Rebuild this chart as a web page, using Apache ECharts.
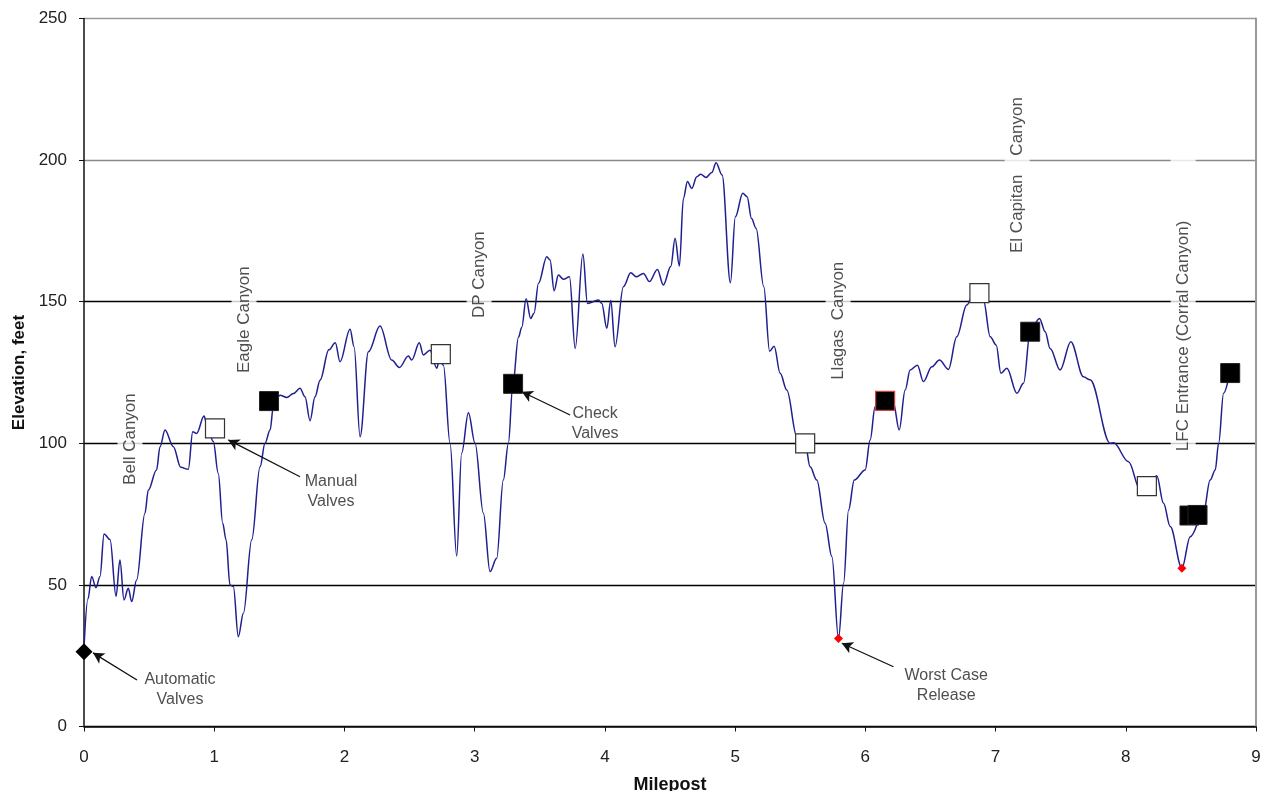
<!DOCTYPE html>
<html>
<head>
<meta charset="utf-8">
<script src="https://cdn.jsdelivr.net/npm/echarts@6/dist/echarts.min.js"></script>
<style>
  html, body { margin: 0; padding: 0; background: #fff; }
  #main { width: 1265px; height: 791px; }
</style>
</head>
<body>
<div id="main"></div>
<script>
// elevation profile: [milepost, elevation ft]
const profile = [
  [0, 28], [0.03, 45], [0.059, 53], [0.092, 49], [0.123, 53], [0.154, 68], [0.2, 66],
  [0.246, 46], [0.276, 58.8], [0.307, 44.7], [0.34, 48.8], [0.366, 44.1], [0.404, 51.7],
  [0.468, 75.3], [0.494, 83.5], [0.557, 90.6], [0.584, 98.8], [0.622, 104.7], [0.686, 98.8],
  [0.743, 91.5], [0.801, 90.8], [0.835, 104.1], [0.865, 103.5], [0.922, 109.6], [0.942, 107],
  [0.993, 100.6], [1.031, 89.4], [1.065, 71.8], [1.091, 65.9], [1.121, 50], [1.147, 49.4],
  [1.185, 31.7], [1.224, 40], [1.288, 65.9], [1.352, 91.7], [1.39, 100], [1.429, 104.7],
  [1.454, 112.9], [1.505, 117], [1.557, 116.2], [1.608, 117.6], [1.659, 119.4], [1.697, 116.4],
  [1.736, 108], [1.774, 116.4], [1.813, 122.3], [1.88, 133], [1.93, 135.5], [1.966, 128.8],
  [2.043, 140.3], [2.074, 134.1], [2.12, 102.3], [2.184, 132.3], [2.273, 141.4], [2.363, 129.4],
  [2.422, 126.8], [2.491, 130.8], [2.517, 129.4], [2.575, 135.5], [2.606, 131.2], [2.657, 132.9],
  [2.709, 126.5], [2.73, 130], [2.76, 127.6], [2.811, 100], [2.862, 60.2], [2.9, 96.5],
  [2.952, 110.8], [3.003, 100], [3.067, 75.3], [3.118, 54.7], [3.169, 59.4], [3.22, 87],
  [3.259, 100], [3.292, 120], [3.336, 137.4], [3.362, 141], [3.395, 151], [3.43, 144.1],
  [3.456, 145.9], [3.49, 156.5], [3.554, 165.9], [3.579, 164.7], [3.61, 153.9], [3.643, 159.4],
  [3.682, 157.9], [3.728, 158.8], [3.772, 133.5], [3.831, 166.8], [3.866, 149.4], [3.951, 150.6],
  [3.976, 149.4], [4.015, 140.6], [4.045, 150.4], [4.078, 134.1], [4.142, 155.3], [4.199, 160.2],
  [4.24, 158.8], [4.296, 160], [4.342, 157.1], [4.403, 161.4], [4.449, 155.9], [4.506, 162.4],
  [4.539, 172.4], [4.572, 162.6], [4.603, 186.5], [4.634, 192.4], [4.667, 190], [4.706, 194.1],
  [4.736, 195], [4.777, 193.9], [4.821, 195.6], [4.854, 199.1], [4.9, 194.7], [4.964, 156.7],
  [5.002, 180], [5.059, 188.3], [5.092, 187.1], [5.126, 179.4], [5.161, 175.9], [5.22, 155.3],
  [5.265, 132.5], [5.3, 134.3], [5.346, 124.7], [5.397, 118.8], [5.474, 102.3], [5.538, 100],
  [5.576, 91.7], [5.627, 87], [5.691, 71.8], [5.743, 60], [5.794, 31.1], [5.833, 50.6],
  [5.871, 76.4], [5.915, 87], [5.999, 90.6], [6.037, 101.2], [6.075, 112.9], [6.13, 116],
  [6.216, 114.1], [6.26, 104.7], [6.306, 118.8], [6.344, 125.9], [6.4, 127.6], [6.446, 121.8],
  [6.51, 127], [6.569, 129.4], [6.638, 126.1], [6.702, 137.6], [6.779, 148.8], [6.851, 155.2],
  [6.907, 150.6], [6.959, 137.6], [7.005, 134.7], [7.041, 124.7], [7.087, 126.5], [7.164, 117.7],
  [7.215, 121.2], [7.266, 139.4], [7.337, 144.1], [7.381, 139.4], [7.419, 133.5], [7.496, 125.9],
  [7.578, 135.9], [7.675, 123.5], [7.726, 122.4], [7.88, 100], [7.906, 100.2], [8.021, 93.5],
  [8.111, 83.5], [8.162, 84.5], [8.238, 88.5], [8.29, 78.8], [8.341, 70.6], [8.431, 55.9],
  [8.495, 67], [8.596, 75.3], [8.648, 87], [8.687, 90.6], [8.713, 100], [8.751, 117.7], [8.79, 123]
];

// valves
const automaticValves = [[0, 26.4]];
const manualValves = [[1.006, 105.3], [2.74, 131.5], [5.538, 100], [6.876, 153], [8.162, 84.9]];
const checkValves = [[1.421, 114.9], [3.295, 121], [7.266, 139.4], [8.489, 74.5], [8.551, 74.7], [8.802, 124.8]];
const checkValvesRed = [[6.152, 115]];
const worstCase = [[5.794, 31.1], [8.431, 55.9]];

// canyon names, anchored at the start (bottom) of the text
const canyonNames = ['Bell Canyon', 'Eagle Canyon', 'DP Canyon', 'Llagas  Canyon', 'El Capitan    Canyon', 'LFC Entrance (Corral Canyon)'];
const canyonAt = [[0.353, 84.6], [1.229, 124.1], [3.034, 143.5], [5.791, 121.7], [7.166, 166.5], [8.441, 96.5]];

// callouts: text centre, arrow tail, arrow tip
const calloutText = ['Automatic\nValves', 'Manual\nValves', 'Check\nValves', 'Worst Case\nRelease'];
const calloutAt = [[0.737, 12.9], [1.897, 83.1], [3.925, 106.8], [6.621, 14.3]];
const arrowFrom = [[0.407, 16.4], [1.659, 88.2], [3.733, 110], [6.216, 21.1]];
const arrowTo = [[0.069, 26], [1.108, 101.2], [3.362, 118.2], [5.819, 29.4]];

const FONT = 'Liberation Sans, Arial, sans-serif';

const chart = echarts.init(document.getElementById('main'));

chart.setOption({
  animation: false,
  backgroundColor: '#fff',
  grid: { left: 84, right: 9, top: 18.5, bottom: 64.5, containLabel: false, outerBoundsMode: 'none' },
  xAxis: {
    type: 'value', min: 0, max: 9, interval: 1,
    name: 'Milepost', nameLocation: 'middle', nameGap: 50,
    nameTextStyle: { fontFamily: FONT, fontSize: 18, fontWeight: 'bold', color: '#111' },
    axisLine: { lineStyle: { color: '#111', width: 1.5 } },
    axisTick: { show: true, length: 5, lineStyle: { color: '#111' } },
    axisLabel: { fontFamily: FONT, fontSize: 17, color: '#222', margin: 22 },
    splitLine: { show: false }
  },
  yAxis: [{
    type: 'value', min: 0, max: 250, interval: 50,
    name: 'Elevation, feet', nameLocation: 'middle', nameGap: 55, nameRotate: 90,
    nameTextStyle: { fontFamily: FONT, fontSize: 17, fontWeight: 'bold', color: '#111' },
    axisLine: { show: true, lineStyle: { color: '#111', width: 1.5 } },
    axisTick: { show: true, length: 5, lineStyle: { color: '#111' } },
    axisLabel: { fontFamily: FONT, fontSize: 17, color: '#222', margin: 17 },
    splitLine: { show: true, lineStyle: { color: ['#000', '#000', '#000', '#000', '#8a8a8a', '#9a9a9a'], width: 1.3 } }
  }, {
    type: 'value', min: 0, max: 250, position: 'right',
    axisLine: { show: true, lineStyle: { color: '#999', width: 2 } },
    axisTick: { show: false }, axisLabel: { show: false }, splitLine: { show: false }
  }],
  series: [
    {
      name: 'Canyons', type: 'scatter', symbolSize: 0, z: 1,
      data: canyonAt.map((p, i) => {
        const item = { value: p, name: canyonNames[i] };
        // the last text box runs on above its text
        if (i === canyonNames.length - 1) item.label = { padding: [4, 62, 4, 2] };
        return item;
      }),
      label: {
        show: true, position: [0, 0], rotate: 90, align: 'left', verticalAlign: 'middle',
        formatter: p => p.name, fontFamily: FONT, fontSize: 17, lineHeight: 17, color: '#222',
        backgroundColor: '#fff', padding: [4, 2]
      }
    },
    {
      name: 'Elevation', type: 'line', data: profile, smooth: 0.35, smoothMonotone: 'x',
      showSymbol: false, z: 3, lineStyle: { color: '#1f1f8f', width: 1.5 }
    },
    {
      name: 'Callouts', type: 'scatter', symbolSize: 0, z: 4,
      data: calloutAt.map((p, i) => ({ value: p, name: calloutText[i] })),
      label: {
        show: true, position: [0, 0], align: 'center', verticalAlign: 'middle',
        formatter: p => p.name, fontFamily: FONT, fontSize: 16, lineHeight: 20, color: '#222'
      },
      markLine: {
        silent: true, symbol: ['none', 'arrow'], symbolSize: [9, 11],
        label: { show: false },
        lineStyle: { color: '#111', width: 1.3, type: 'solid' },
        data: arrowFrom.map((p, i) => [{ coord: p }, { coord: arrowTo[i] }])
      }
    },
    {
      name: 'Manual Valves', type: 'scatter', symbol: 'rect', symbolSize: 19, z: 5,
      data: manualValves, itemStyle: { color: '#fff', borderColor: '#333', borderWidth: 1.2, opacity: 1 }
    },
    {
      name: 'Check Valves', type: 'scatter', symbol: 'rect', symbolSize: 19, z: 5,
      data: checkValves, itemStyle: { color: '#000', borderColor: '#222', borderWidth: 1, opacity: 1 }
    },
    {
      name: 'Check Valve (red)', type: 'scatter', symbol: 'rect', symbolSize: 19, z: 5,
      data: checkValvesRed, itemStyle: { color: '#000', borderColor: '#d04040', borderWidth: 1.2, opacity: 1 }
    },
    {
      name: 'Automatic Valves', type: 'scatter', symbol: 'diamond', symbolSize: 17, z: 5,
      data: automaticValves, itemStyle: { color: '#000', opacity: 1 }
    },
    {
      name: 'Worst Case', type: 'scatter', symbol: 'diamond', symbolSize: 9, z: 5,
      data: worstCase, itemStyle: { color: '#ff0000', opacity: 1 }
    }
  ]
});
</script>
</body>
</html>
